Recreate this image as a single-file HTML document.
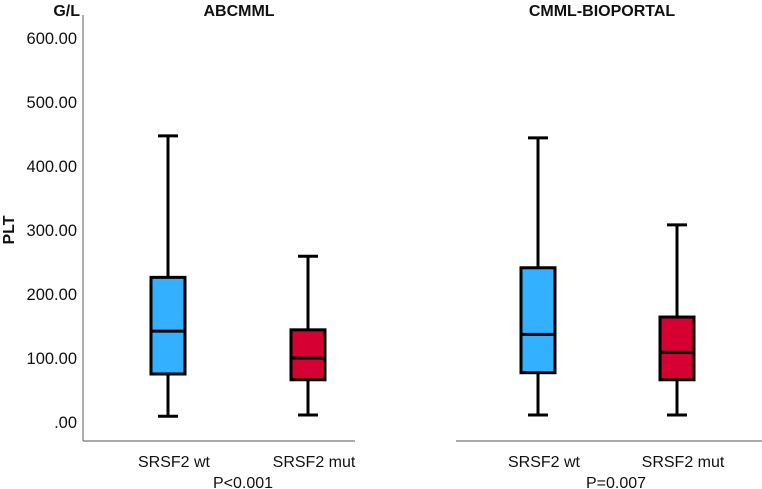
<!DOCTYPE html>
<html><head><meta charset="utf-8"><style>
html,body{margin:0;padding:0;background:#fff;}
svg{display:block;font-family:"Liberation Sans",sans-serif;}
</style></head><body>
<svg id="chart" width="762" height="489" viewBox="0 0 762 489">
<g id="axes"></g><g id="marks"></g>
</svg>
<script>
const panels = ["ABCMML","CMML-BIOPORTAL"];
const categories = ["SRSF2 wt","SRSF2 mut"];
const pValues = ["P<0.001","P=0.007"];
const wMin = [[9,11],[11,11]];
const q1 = [[75,66],[77,66]];
const med = [[142,100],[137,109]];
const q3 = [[226,144],[241,164]];
const wMax = [[447,259],[444,308]];
const yTicks = [0,100,200,300,400,500,600];
const yTickLabels = [".00","100.00","200.00","300.00","400.00","500.00","600.00"];
const colors = ["#33b0ff","#d70032"];

const NS="http://www.w3.org/2000/svg";
const axes=document.getElementById('axes'), marks=document.getElementById('marks');
function el(tag,attrs,parent,text){const e=document.createElementNS(NS,tag);for(const k in attrs)e.setAttribute(k,attrs[k]);if(text!==undefined)e.textContent=text;parent.appendChild(e);return e;}
const y = v => 422 - v*0.64;
const panelX = [[168,308],[538,677]];
const panelAxis = [[83,355],[456,762]];
const titleX=[239,602], pX=[243,616];

let ya=el('line',{x1:83,y1:15,x2:83,y2:441,stroke:'#777','stroke-width':1.2},axes);


yTicks.forEach((t,i)=>{
  const tx=el('text',{x:77,y:y(t)+6,'text-anchor':'end','font-size':16.5,fill:'#111'},axes,yTickLabels[i]);
  
  
});
let gl=el('text',{x:80,y:16,'text-anchor':'end','font-size':16,'font-weight':'bold',fill:'#111'},axes,'G/L');


let plt=el('text',{x:0,y:0,'text-anchor':'middle','font-size':16,'font-weight':'bold',fill:'#111',transform:'translate(14,230) rotate(-90)'},axes,'PLT');



panels.forEach((p,pi)=>{
  const xa=el('line',{x1:panelAxis[pi][0],y1:441,x2:panelAxis[pi][1],y2:441,stroke:'#777','stroke-width':1.2},axes);
  
  
  const tt=el('text',{x:titleX[pi],y:16,'text-anchor':'middle','font-size':16,'font-weight':'bold',fill:'#111'},axes,p);
  
  
  const pv=el('text',{x:pX[pi],y:488,'text-anchor':'middle','font-size':16,fill:'#111'},axes,pValues[pi]);
  
  
  categories.forEach((c,ci)=>{
    const cx=panelX[pi][ci];
    const cl=el('text',{x:cx+6,y:467,'text-anchor':'middle','font-size':16,fill:'#111'},axes,c);
    
    
    const g=el('g',{},marks);
    
    
    const s={stroke:'#000','stroke-width':3};
    el('line',Object.assign({x1:cx,x2:cx,y1:y(wMax[pi][ci]),y2:y(q3[pi][ci])},s),g);
    el('line',Object.assign({x1:cx,x2:cx,y1:y(q1[pi][ci]),y2:y(wMin[pi][ci])},s),g);
    el('line',Object.assign({x1:cx-10,x2:cx+10,y1:y(wMax[pi][ci]),y2:y(wMax[pi][ci])},s),g);
    el('line',Object.assign({x1:cx-10,x2:cx+10,y1:y(wMin[pi][ci]),y2:y(wMin[pi][ci])},s),g);
    el('rect',Object.assign({x:cx-17,y:y(q3[pi][ci]),width:34,height:y(q1[pi][ci])-y(q3[pi][ci]),fill:colors[ci]},s),g);
    el('line',Object.assign({x1:cx-17,x2:cx+17,y1:y(med[pi][ci]),y2:y(med[pi][ci])},s),g);
  });
});
</script>
</body></html>
